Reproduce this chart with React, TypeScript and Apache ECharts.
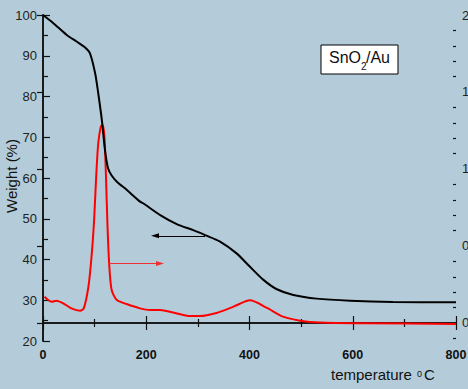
import React, { useEffect, useRef } from "react";
import * as echarts from "echarts";

// TGA (weight %) curve — black, left axis
const tgaTemp = [0, 20, 46, 65, 81, 91, 101, 107, 114, 120, 126, 133, 143, 162, 188, 194, 227, 259, 291, 314, 343, 375, 401, 427, 453, 485, 530, 595, 678, 800];
const tgaWeight = [100, 98.0, 95.1, 93.5, 92.1, 90.6, 85.7, 80.8, 74.2, 66.9, 62.4, 60.6, 59.1, 57.1, 54.2, 53.8, 50.9, 48.7, 47.2, 46.0, 44.4, 41.5, 38.2, 35.0, 32.7, 31.3, 30.4, 29.9, 29.6, 29.5];

// DTG curve — red, right axis
const dtgTemp = [3, 10, 17, 26, 39, 55, 72, 79, 88, 94, 99, 103, 107, 112, 115.5, 119, 122, 125, 128.5, 133, 143, 162, 188, 207, 227, 252, 285, 304, 336, 369, 401, 433, 465, 498, 536, 627, 800];
const dtgValue = [0.17, 0.149, 0.138, 0.145, 0.128, 0.095, 0.08, 0.095, 0.236, 0.43, 0.669, 0.95, 1.167, 1.275, 1.286, 1.21, 0.95, 0.625, 0.366, 0.214, 0.149, 0.123, 0.095, 0.084, 0.084, 0.068, 0.045, 0.045, 0.065, 0.106, 0.147, 0.1, 0.041, 0.015, 0.003, -0.002, -0.006];

const xTicks = [0, 200, 400, 600, 800];
const leftTicks = [20, 30, 40, 50, 60, 70, 80, 90, 100];
const rightMajor = [0, 0.5, 1.0, 1.5, 2.0];
const rightMinor = [-0.1, 0.1, 0.2, 0.3, 0.4, 0.6, 0.7, 0.8, 0.9, 1.1, 1.2, 1.3, 1.4, 1.6, 1.7, 1.8, 1.9];

// arrows: [startT, endT, value]
const blackArrow = [314, 217, 45.8];
const redArrow = [128.4, 226.6, 0.386];

const BG = "#b4ccd9";
const FONT = "'Liberation Sans', Arial, sans-serif";
const AX = "#111";

export default function App() {
  const ref = useRef<HTMLDivElement>(null);
  useEffect(() => {
    if (!ref.current) return;
    const chart = echarts.init(ref.current, undefined, { renderer: "svg" });
    const axisLine = { show: true, lineStyle: { color: AX, width: 1.5 } };
    const xCommon = {
      type: "value",
      min: xTicks[0],
      max: xTicks[xTicks.length - 1],
      interval: 200,
      axisLine,
      axisTick: { show: true, inside: true, length: 7, lineStyle: { color: AX, width: 1.2 } },
      minorTick: { show: true, splitNumber: 2, length: 4, lineStyle: { color: AX, width: 1.2 } },
      splitLine: { show: false },
      minorSplitLine: { show: false },
    };
    chart.setOption({
      animation: false,
      backgroundColor: BG,
      textStyle: { fontFamily: FONT },
      grid: { left: 43, top: 15, width: 413, height: 326, containLabel: false, outerBoundsMode: "none" },
      xAxis: [
        {
          ...xCommon,
          position: "bottom",
          axisLabel: { show: true, fontSize: 12.5, fontWeight: "bold", color: AX, margin: 7, fontFamily: FONT },
        },
        {
          ...xCommon,
          position: "top",
          axisLabel: { show: false },
        },
      ],
      yAxis: [
        {
          type: "value",
          position: "left",
          min: leftTicks[0],
          max: leftTicks[leftTicks.length - 1],
          interval: 10,
          axisLine,
          axisTick: { show: true, inside: true, length: 7, lineStyle: { color: AX, width: 1.2 } },
          minorTick: { show: true, splitNumber: 2, length: 5, lineStyle: { color: AX, width: 1.2 } },
          splitLine: { show: false },
          axisLabel: { fontSize: 13, color: "#222", margin: 6, fontFamily: FONT },
        },
        {
          type: "value",
          position: "right",
          min: -0.117,
          max: 2.0,
          axisLine,
          axisTick: { show: true, inside: true, length: 6, customValues: rightMajor, lineStyle: { color: AX, width: 1.2 } },
          splitLine: { show: false },
          axisLabel: {
            show: true,
            customValues: rightMajor,
            fontSize: 13,
            color: "#222",
            margin: 6,
            fontFamily: FONT,
            formatter: (v: number) => v.toFixed(1),
          },
        },
        {
          type: "value",
          position: "right",
          min: -0.117,
          max: 2.0,
          axisLine: { show: false },
          axisTick: { show: true, inside: true, length: 3, customValues: rightMinor, lineStyle: { color: AX, width: 1.2 } },
          splitLine: { show: false },
          axisLabel: { show: false },
        },
      ],
      series: [
        {
          type: "line",
          xAxisIndex: 0,
          yAxisIndex: 1,
          data: dtgTemp.map((t, i) => [t, dtgValue[i]]),
          showSymbol: false,
          smooth: 0.25,
          lineStyle: { color: "#ff0000", width: 2 },
          markLine: {
            silent: true,
            symbol: ["none", "triangle"],
            symbolSize: [5, 8],
            label: { show: false },
            lineStyle: { color: "#f03030", width: 1, type: "solid" },
            data: [[{ coord: [redArrow[0], redArrow[2]] }, { coord: [redArrow[1], redArrow[2]] }]],
          },
          z: 2,
        },
        {
          type: "line",
          xAxisIndex: 0,
          yAxisIndex: 0,
          data: tgaTemp.map((t, i) => [t, tgaWeight[i]]),
          showSymbol: false,
          smooth: 0.25,
          lineStyle: { color: "#000", width: 2 },
          markLine: {
            silent: true,
            symbol: ["none", "triangle"],
            symbolSize: [5, 8],
            label: { show: false },
            lineStyle: { color: "#000", width: 1.2, type: "solid" },
            data: [[{ coord: [blackArrow[0], blackArrow[2]] }, { coord: [blackArrow[1], blackArrow[2]] }]],
          },
          z: 3,
        },
      ],
      graphic: [
        {
          type: "text",
          x: 11,
          y: 176,
          rotation: Math.PI / 2,
          style: { text: "Weight (%)", fontSize: 15, fontFamily: FONT, fill: "#111", textAlign: "center", textVerticalAlign: "middle" },
        },
        {
          type: "text",
          x: 331,
          y: 382,
          style: { text: "temperature", fontSize: 15, fontFamily: FONT, fill: "#111", textAlign: "left", textVerticalAlign: "bottom" },
        },
        {
          type: "text",
          x: 417,
          y: 378,
          style: { text: "0", fontSize: 9, fontFamily: FONT, fill: "#111", textAlign: "left", textVerticalAlign: "bottom" },
        },
        {
          type: "text",
          x: 424,
          y: 382,
          style: { text: "C", fontSize: 15, fontFamily: FONT, fill: "#111", textAlign: "left", textVerticalAlign: "bottom" },
        },
        {
          type: "rect",
          shape: { x: 321, y: 45, width: 77, height: 29 },
          style: { fill: "#ffffff", stroke: "#000", lineWidth: 1 },
        },
        {
          type: "text",
          x: 329,
          y: 65,
          style: { text: "SnO", fontSize: 16, fontFamily: FONT, fill: "#111", textAlign: "left", textVerticalAlign: "bottom" },
        },
        {
          type: "text",
          x: 361,
          y: 71,
          style: { text: "2", fontSize: 10, fontFamily: FONT, fill: "#111", textAlign: "left", textVerticalAlign: "bottom" },
        },
        {
          type: "text",
          x: 366,
          y: 65,
          style: { text: "/Au", fontSize: 16, fontFamily: FONT, fill: "#111", textAlign: "left", textVerticalAlign: "bottom" },
        },
      ],
    });
    return () => chart.dispose();
  }, []);
  return (
    <div
      ref={ref}
      style={{ position: "fixed", left: 0, top: 0, width: 468, height: 389, background: BG }}
    />
  );
}
